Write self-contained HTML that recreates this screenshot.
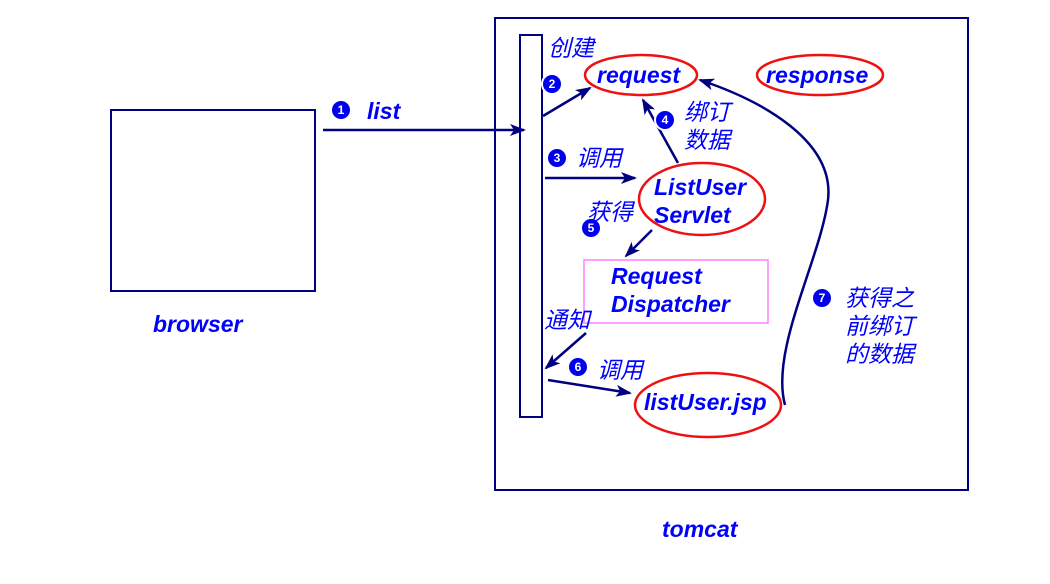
<!DOCTYPE html>
<html><head><meta charset="utf-8"><style>
html,body{margin:0;padding:0;background:#fff;width:1050px;height:584px;overflow:hidden}
text{font-family:"Liberation Sans","Noto Sans CJK SC",sans-serif;font-style:italic;font-weight:bold;fill:#0000ff;font-size:23px}
.cn{font-weight:normal;font-size:23px}
.b{fill:#fff;font-size:12px;font-style:normal;text-anchor:middle}
</style></head><body>
<svg width="1050" height="584" viewBox="0 0 1050 584" xmlns="http://www.w3.org/2000/svg">
<defs>
<marker id="a" markerWidth="16" markerHeight="12" refX="14" refY="6" orient="auto" markerUnits="userSpaceOnUse">
<path d="M0,0 L16,6 L0,12 L4,6 Z" fill="#000080"/></marker>
</defs>
<g fill="none" stroke="#000080" stroke-width="2">
<rect x="111" y="110" width="204" height="181"/>
<rect x="495" y="18" width="473" height="472"/>
<rect x="520" y="35" width="22" height="382"/>
</g>
<g stroke="#000080" stroke-width="2.5" fill="none" marker-end="url(#a)">
<line x1="323" y1="130" x2="524" y2="130"/>
<line x1="543" y1="116" x2="590" y2="88"/>
<line x1="545" y1="178" x2="635" y2="178"/>
<line x1="678" y1="163" x2="643" y2="100"/>
<line x1="652" y1="230" x2="626" y2="256"/>
<line x1="586" y1="333" x2="546" y2="368"/>
<line x1="548" y1="380" x2="630" y2="393"/>
<path d="M785,405 C770,350 820,260 828,200 C835,140 760,100 700,80"/>
</g>
<rect x="584" y="260" width="184" height="63" fill="none" stroke="#ff80ff" stroke-width="1.5"/>
<g fill="none" stroke="#ee1111" stroke-width="2.5">
<ellipse cx="641" cy="75" rx="56" ry="20"/>
<ellipse cx="820" cy="75" rx="63" ry="20"/>
<ellipse cx="702" cy="199" rx="63" ry="36"/>
<ellipse cx="708" cy="405" rx="73" ry="32"/>
</g>
<g>
<circle cx="341" cy="110" r="10" fill="#0000ee" stroke="#fff" stroke-width="2"/><text class="b" x="341" y="114">1</text>
<circle cx="552" cy="84" r="10" fill="#0000ee" stroke="#fff" stroke-width="2"/><text class="b" x="552" y="88">2</text>
<circle cx="557" cy="158" r="10" fill="#0000ee" stroke="#fff" stroke-width="2"/><text class="b" x="557" y="162">3</text>
<circle cx="665" cy="120" r="10" fill="#0000ee" stroke="#fff" stroke-width="2"/><text class="b" x="665" y="124">4</text>
<circle cx="591" cy="228" r="10" fill="#0000ee" stroke="#fff" stroke-width="2"/><text class="b" x="591" y="232">5</text>
<circle cx="578" cy="367" r="10" fill="#0000ee" stroke="#fff" stroke-width="2"/><text class="b" x="578" y="371">6</text>
<circle cx="822" cy="298" r="10" fill="#0000ee" stroke="#fff" stroke-width="2"/><text class="b" x="822" y="302">7</text>
</g>
<text x="367" y="119">list</text>
<text x="153" y="332" font-size="21">browser</text>
<text x="662" y="537" font-size="21">tomcat</text>
<text x="597" y="83" font-size="22">request</text>
<text x="766" y="83" font-size="21">response</text>
<text x="654" y="195">ListUser</text>
<text x="654" y="223">Servlet</text>
<text x="611" y="284" font-size="22">Request</text>
<text x="611" y="312" font-size="22">Dispatcher</text>
<text x="644" y="410">listUser.jsp</text>
<text class="cn" x="548" y="56">创建</text>
<text class="cn" x="576" y="166">调用</text>
<text class="cn" x="684" y="120">绑订</text>
<text class="cn" x="684" y="148">数据</text>
<text class="cn" x="587" y="220">获得</text>
<text class="cn" x="544" y="328">通知</text>
<text class="cn" x="597" y="378">调用</text>
<text class="cn" x="845" y="306">获得之</text>
<text class="cn" x="845" y="334">前绑订</text>
<text class="cn" x="845" y="362">的数据</text>
</svg>
</body></html>
